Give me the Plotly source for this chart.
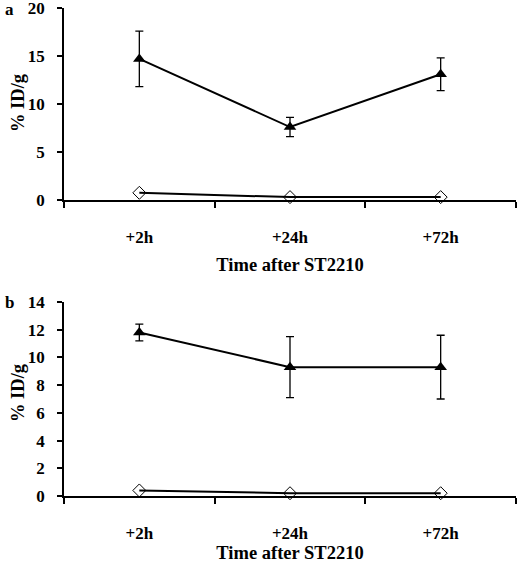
import plotly.graph_objects as go

times = ["+2h", "+24h", "+72h"]

# Panel a
a_tri = [14.7, 7.6, 13.1]
a_tri_err = [2.9, 1.0, 1.7]
a_dia = [0.75, 0.3, 0.3]

# Panel b
b_tri = [11.8, 9.3, 9.3]
b_tri_err = [0.6, 2.2, 2.3]
b_dia = [0.4, 0.2, 0.2]

W, H = 520, 563
FONT = "Liberation Serif, Times New Roman, serif"

fig = go.Figure()

def add_panel(xa, ya, tri, err, dia):
    fig.add_trace(go.Scatter(
        x=times, y=dia, xaxis=xa, yaxis=ya, mode="lines+markers",
        line=dict(color="black", width=2),
        marker=dict(symbol="diamond-open", size=10, color="black", line=dict(width=1)),
        showlegend=False, cliponaxis=False))
    fig.add_trace(go.Scatter(
        x=times, y=tri, xaxis=xa, yaxis=ya, mode="lines+markers",
        line=dict(color="black", width=2),
        marker=dict(symbol="triangle-up", size=11, color="black"),
        error_y=dict(type="data", array=err, visible=True, color="black", thickness=1.3, width=4),
        showlegend=False, cliponaxis=False))

add_panel("x", "y", a_tri, a_tri_err, a_dia)
add_panel("x2", "y2", b_tri, b_tri_err, b_dia)

def ydom(top_px, bot_px):
    return [1 - bot_px / H, 1 - top_px / H]

tickfont = dict(family=FONT, size=17, color="black", weight="bold")
titlefont = dict(family=FONT, size=18.5, color="black", weight="bold")

xcommon = dict(
    type="category", showline=True, linecolor="black", linewidth=1.5,
    ticks="outside", ticklen=6, tickcolor="black", tickwidth=1.5,
    tickson="boundaries", showgrid=False, zeroline=False,
    tickfont=tickfont, ticklabelstandoff=21, automargin=False,
    range=[-0.5, 2.5], ticklabeloverflow="allow",
)
ycommon = dict(
    showline=True, linecolor="black", linewidth=1.5,
    ticks="outside", ticklen=5, tickcolor="black", tickwidth=1.5,
    showgrid=False, zeroline=False, tickfont=tickfont, ticklabelstandoff=9,
    automargin=False, ticklabeloverflow="allow",
)

def ytitle(ycenter_px):
    return dict(text="% ID/g", x=0, y=1 - ycenter_px / H, xref="paper", yref="paper",
                xshift=-46, showarrow=False, textangle=-90, font=titlefont,
                xanchor="center", yanchor="middle")

fig.update_layout(
    width=W, height=H, autosize=False,
    margin=dict(l=64, r=4, t=0, b=0),
    paper_bgcolor="white", plot_bgcolor="white",
    font=dict(family=FONT, color="black"),
    xaxis=dict(**xcommon, anchor="y",
               title=dict(text="Time after ST2210", font=titlefont, standoff=12)),
    yaxis=dict(**ycommon, anchor="x", domain=ydom(8, 200), range=[0, 20], dtick=5),
    xaxis2=dict(**xcommon, anchor="y2",
                title=dict(text="Time after ST2210", font=titlefont, standoff=12)),
    yaxis2=dict(**ycommon, anchor="x2", domain=ydom(302, 496), range=[0, 14], dtick=2),
    annotations=[
        ytitle(103), ytitle(393),
        dict(text="<b>a</b>", x=0, y=1 - 10 / H, xref="paper", yref="paper",
             xshift=-61, showarrow=False, font=dict(family=FONT, size=17, color="black"),
             xanchor="left", yanchor="middle"),
        dict(text="<b>b</b>", x=0, y=1 - 302 / H, xref="paper", yref="paper",
             xshift=-61, showarrow=False, font=dict(family=FONT, size=17, color="black"),
             xanchor="left", yanchor="middle"),
    ],
)

fig.write_html("out.html", config={"displayModeBar": False},
               post_script="document.body.style.margin='0px';document.body.style.overflow='hidden';")
